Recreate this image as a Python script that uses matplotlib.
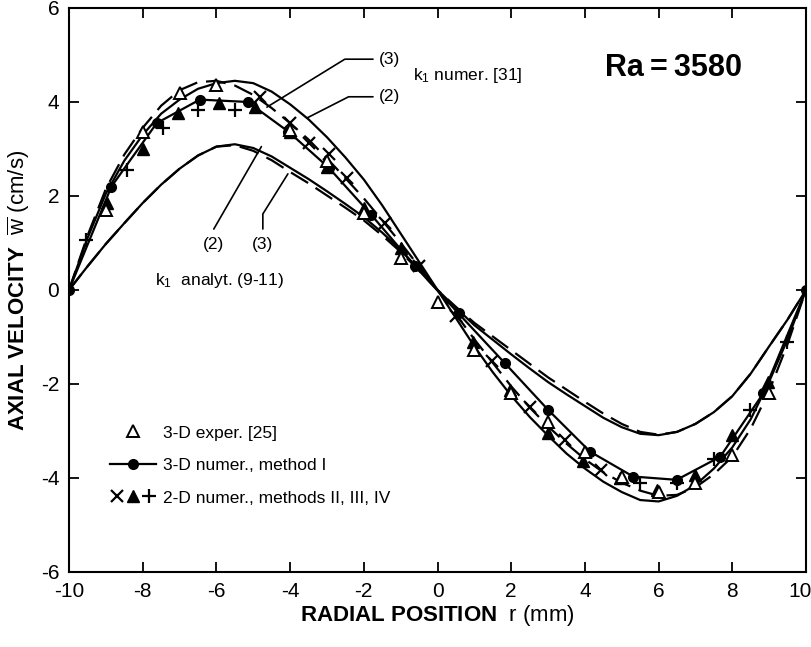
import matplotlib
matplotlib.use('Agg')
import matplotlib.pyplot as plt
import matplotlib.transforms as mtransforms
from matplotlib.legend_handler import HandlerTuple
from matplotlib.ticker import FixedLocator

plt.rcParams['font.family'] = ['Liberation Sans', 'DejaVu Sans']
plt.rcParams['mathtext.fontset'] = 'custom'
plt.rcParams['mathtext.rm'] = 'Liberation Sans'
plt.rcParams['mathtext.it'] = 'Liberation Sans:italic'
plt.rcParams['mathtext.bf'] = 'Liberation Sans:bold'
plt.rcParams['axes.unicode_minus'] = False

# radial grid for the curves (mm), 0.5 mm steps
r_grid = [-10, -9.5, -9, -8.5, -8, -7.5, -7, -6.5, -6, -5.5, -5, -4.5, -4, -3.5,
          -3, -2.5, -2, -1.5, -1, -0.5, 0, 0.5, 1, 1.5, 2, 2.5, 3, 3.5, 4, 4.5,
          5, 5.5, 6, 6.5, 7, 7.5, 8, 8.5, 9, 9.5, 10]

# k1 numer. [31], case (2) solid
num2 = [0, 1.1, 2.05, 2.75, 3.3, 3.75, 4.05, 4.28, 4.4, 4.45, 4.4, 4.22, 3.95, 3.63,
        3.25, 2.82, 2.35, 1.8, 1.2, 0.6, 0, -0.6, -1.2, -1.75, -2.25, -2.7, -3.1,
        -3.48, -3.8, -4.08, -4.3, -4.47, -4.5, -4.38, -4.15, -3.8, -3.35, -2.75,
        -1.95, -1.05, 0]
# k1 numer. [31], case (3) dashed
num3 = [0, 1.15, 2.15, 2.88, 3.45, 3.92, 4.25, 4.42, 4.45, 4.35, 4.15, 3.87, 3.55,
        3.2, 2.8, 2.38, 1.95, 1.48, 1.0, 0.5, 0, -0.52, -1.05, -1.55, -2.05, -2.5,
        -2.9, -3.27, -3.6, -3.88, -4.1, -4.27, -4.38, -4.36, -4.2, -3.92, -3.55,
        -2.95, -2.15, -1.15, 0]

# k1 analyt. (9-11), case (2) solid
an2 = [0, 0.5, 0.98, 1.42, 1.85, 2.24, 2.58, 2.86, 3.05, 3.1, 3.02, 2.84, 2.6,
       2.36, 2.1, 1.83, 1.55, 1.22, 0.85, 0.43, 0, -0.38, -0.75, -1.06, -1.37,
       -1.67, -1.96, -2.22, -2.47, -2.72, -2.92, -3.06, -3.09, -3.02, -2.85,
       -2.6, -2.26, -1.78, -1.2, -0.63, 0]
# k1 analyt. (9-11), case (3) dashed
an3 = [0, 0.5, 0.98, 1.42, 1.85, 2.24, 2.58, 2.86, 3.05, 3.08, 2.96, 2.76, 2.51,
       2.27, 2.01, 1.75, 1.48, 1.16, 0.81, 0.41, 0, -0.36, -0.7, -0.99, -1.28,
       -1.57, -1.86, -2.12, -2.38, -2.63, -2.85, -3.02, -3.08, -3.02, -2.85,
       -2.6, -2.26, -1.78, -1.2, -0.63, 0]

# 3-D exper. [25]
exp_r = [-9, -8, -7, -6, -4, -3, -2, -1, 0, 1, 2, 3, 4, 5, 6, 7, 8, 9]
exp_w = [1.7, 3.37, 4.18, 4.36, 3.4, 2.75, 1.64, 0.68, -0.25,
         -1.28, -2.2, -2.8, -3.44, -3.97, -4.29, -4.11, -3.51, -2.2]

# 3-D numer., method I
m1_r = [-10, -8.85, -7.62, -6.45, -5.15, -4.05, -2.95, -1.8, -0.6,
        0.57, 1.83, 3.0, 4.14, 5.31, 6.49, 7.67, 8.84, 10]
m1_w = [0, 2.2, 3.55, 4.05, 4.0, 3.37, 2.6, 1.6, 0.5,
        -0.5, -1.56, -2.55, -3.44, -3.97, -4.04, -3.55, -2.2, 0]

# 2-D numer., method II (x)
m2_r = [-4.82, -4.0, -3.5, -2.95, -2.46, -1.42, -0.5, 0.5, 1.47, 2.51, 3.46, 4.45]
m2_w = [4.11, 3.55, 3.12, 2.9, 2.38, 1.42, 0.5, -0.55, -1.52, -2.48, -3.19, -3.83]

# 2-D numer., method III (filled triangles)
m3_r = [-8.98, -8.0, -7.03, -5.92, -4.95, -4.0, -3.0, -2.0, -1.0,
        0.97, 1.97, 3.0, 3.96, 4.95, 5.95, 6.99, 7.98, 8.98]
m3_w = [1.84, 3.0, 3.76, 3.97, 3.9, 3.37, 2.62, 1.75, 0.9,
        -1.1, -2.13, -3.05, -3.65, -4.0, -4.26, -3.94, -3.09, -1.95]

# 2-D numer., method IV (+)
m4_r = [-9.54, -8.43, -7.44, -6.49, -5.5, 5.5, 6.5, 7.5, 8.48, 9.48]
m4_w = [1.06, 2.55, 3.44, 3.83, 3.83, -4.11, -4.1, -3.6, -2.55, -1.1]

fig = plt.figure(figsize=(8.12, 6.47), dpi=100)
ax = fig.add_axes([0.085, 0.116, 0.9076, 0.8717])

lw = 1.6
ax.plot(r_grid, num2, color='black', lw=lw)
ax.plot(r_grid, num3, color='black', lw=lw, dashes=(9, 4))
ax.plot(r_grid, an2, color='black', lw=lw)
ax.plot(r_grid, an3, color='black', lw=lw, dashes=(9, 4))

h_m1, = ax.plot(m1_r, m1_w, color='black', lw=lw, marker='o', ms=7)
h_m3, = ax.plot(m3_r, m3_w, ls='none', marker='^', ms=8, color='black')
h_m2, = ax.plot(m2_r, m2_w, ls='none', marker='x', ms=8, mew=1.6, color='black')
h_m4, = ax.plot(m4_r, m4_w, ls='none', marker='+', ms=10, mew=1.6, color='black')
h_exp, = ax.plot(exp_r, exp_w, ls='none', marker='^', ms=9, mfc='white',
                 mec='black', mew=1.4)

ax.set_xlim(-10, 10)
ax.set_ylim(-6, 6)
ax.set_xticks(range(-10, 11, 2))
ax.set_yticks(range(-6, 7, 2))
ax.tick_params(which='major', direction='in', length=7, width=1.3,
               top=True, right=True, labelsize=15, pad=7)
ax.xaxis.set_minor_locator(FixedLocator([0]))
ax.yaxis.set_minor_locator(FixedLocator([0]))
ax.tick_params(which='minor', direction='in', length=31, width=1.3,
               top=True, right=True)
for s in ax.spines.values():
    s.set_linewidth(1.5)

# keep the last x label inside the picture
last = ax.get_xticklabels()[-1]
last.set_transform(last.get_transform() +
                   mtransforms.ScaledTranslation(-6 / 100, 0, fig.dpi_scale_trans))

# axis titles
fig.text(0.5382, 1 - 615 / 647, r'$\mathbf{RADIAL\ POSITION}$  r (mm)',
         ha='center', va='center', fontsize=16)
fig.text(19 / 812, 1 - 290 / 647, r'$\mathbf{AXIAL\ VELOCITY}$  $\overline{\mathrm{w}}$ (cm/s)',
         ha='center', va='center', rotation=90, fontsize=16)

ax.text(4.55, 4.72, 'Ra\u2009=\u20093580', fontsize=22, fontweight='bold',
        ha='left', va='center')

# labels of the k1 curves
tfs = 12.5
ax.annotate('(3)', xy=(-4.63, 3.89), xytext=(-1.6, 4.91), fontsize=tfs,
            ha='left', va='center',
            arrowprops=dict(arrowstyle='-', lw=1.2, shrinkA=2, shrinkB=0,
                            connectionstyle='angle,angleA=0,angleB=31.6,rad=0'))
ax.annotate('(2)', xy=(-3.54, 3.66), xytext=(-1.6, 4.11), fontsize=tfs,
            ha='left', va='center',
            arrowprops=dict(arrowstyle='-', lw=1.2, shrinkA=2, shrinkB=0,
                            connectionstyle='angle,angleA=0,angleB=27,rad=0'))
ax.text(-0.67, 4.57, r'k$_1$ numer. [31]', fontsize=tfs, ha='left', va='center')

ax.annotate('(2)', xy=(-4.78, 3.05), xytext=(-6.09, 0.96), fontsize=tfs,
            ha='center', va='center',
            arrowprops=dict(arrowstyle='-', lw=1.2, shrinkA=4, shrinkB=0,
                            connectionstyle='angle,angleA=90,angleB=60,rad=0'))
ax.annotate('(3)', xy=(-4.06, 2.47), xytext=(-4.74, 0.96), fontsize=tfs,
            ha='center', va='center',
            arrowprops=dict(arrowstyle='-', lw=1.2, shrinkA=4, shrinkB=0,
                            connectionstyle='angle,angleA=90,angleB=58,rad=0'))
ax.text(-7.67, 0.21, r'k$_1$  analyt. (9-11)', fontsize=tfs, ha='left', va='center')

leg = ax.legend([h_exp, h_m1, (h_m2, h_m3, h_m4)],
                ['3-D exper. [25]', '3-D numer., method I',
                 '2-D numer., methods II, III, IV'],
                handler_map={tuple: HandlerTuple(ndivide=None, pad=0.1)},
                loc='lower left', bbox_to_anchor=(0.035, 0.09),
                frameon=False, fontsize=tfs, handlelength=2.6,
                handletextpad=0.45, labelspacing=1.0)

plt.savefig('out.png', dpi=100)
